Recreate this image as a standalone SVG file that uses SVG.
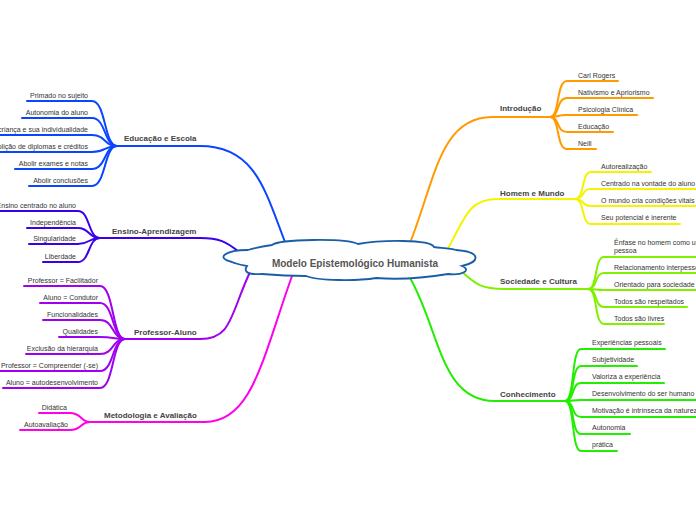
<svg xmlns="http://www.w3.org/2000/svg" width="696" height="520" viewBox="0 0 696 520">
<style>
.c{fill:none;stroke-width:2;stroke-linecap:round}
.t{font-family:"Liberation Sans",Arial,sans-serif;font-size:7px;fill:#333}
.m{font-family:"Liberation Sans",Arial,sans-serif;font-size:8px;font-weight:bold;fill:#444}
.e{text-anchor:end}
.or{stroke:#FF9A00}.ye{stroke:#F4F400}.li{stroke:#80F000}.gr{stroke:#22EE00}
.bl{stroke:#0A46FF}.in{stroke:#3A00EC}.pu{stroke:#A000F0}.mg{stroke:#FF00E8}
</style>
<rect width="696" height="520" fill="#fff"/>
<g id="connectors">
<!-- main branches -->
<path class="c or" d="M410,243 C435,180 440,117 492,117 H550"/>
<path class="c ye" d="M447,251 C466,214 470,199 498,199 H575"/>
<path class="c li" d="M460,270 C476,285 482,289 505,289 H588"/>
<path class="c gr" d="M410,278 C440,330 440,401 495,401 H565"/>
<path class="c bl" d="M285,242 C265,190 255,146 200,146 H117"/>
<path class="c in" d="M238,251 C226,242 220,238 200,238 H100"/>
<path class="c pu" d="M250,272 C230,315 232,339 200,339 H125"/>
<path class="c mg" d="M292,276 C262,360 252,422 205,422 H90"/>
<!-- Introdução children -->
<path class="c or" d="M550,117 C560,117 556,81 567,81 H618"/>
<path class="c or" d="M550,117 C560,117 556,98 567,98 H653"/>
<path class="c or" d="M550,117 C560,117 556,115 567,115 H637"/>
<path class="c or" d="M550,117 C560,117 556,132 567,132 H613"/>
<path class="c or" d="M550,117 C560,117 556,149 567,149 H596"/>
<!-- Homem e Mundo children -->
<path class="c ye" d="M575,199 C585,199 581,172 591,172 H651"/>
<path class="c ye" d="M575,199 C585,199 581,189 591,189 H697"/>
<path class="c ye" d="M575,199 C585,199 581,206 591,206 H697"/>
<path class="c ye" d="M575,199 C585,199 581,224 591,224 H680"/>
<!-- Sociedade e Cultura children -->
<path class="c li" d="M588,289 C598,289 594,257 604,257 H697"/>
<path class="c li" d="M588,289 C598,289 594,273 604,273 H697"/>
<path class="c li" d="M588,289 C598,289 594,290 604,290 H697"/>
<path class="c li" d="M588,289 C598,289 594,307 604,307 H687"/>
<path class="c li" d="M588,289 C598,289 594,324 604,324 H664"/>
<!-- Conhecimento children -->
<path class="c gr" d="M565,401 C575,401 571,349 581,349 H665"/>
<path class="c gr" d="M565,401 C575,401 571,366 581,366 H637"/>
<path class="c gr" d="M565,401 C575,401 571,383 581,383 H664"/>
<path class="c gr" d="M565,401 C575,401 571,400 581,400 H697"/>
<path class="c gr" d="M565,401 C575,401 571,417 581,417 H697"/>
<path class="c gr" d="M565,401 C575,401 571,434 581,434 H630"/>
<path class="c gr" d="M565,401 C575,401 571,451 581,451 H617"/>
<!-- Educação e Escola children -->
<path class="c bl" d="M117,146 C104,146 106,101 92,101 H27"/>
<path class="c bl" d="M117,146 C104,146 106,118 92,118 H22"/>
<path class="c bl" d="M117,146 C104,146 106,135 92,135 H-1"/>
<path class="c bl" d="M117,146 C104,146 106,152 92,152 H-1"/>
<path class="c bl" d="M117,146 C104,146 106,169 92,169 H15"/>
<path class="c bl" d="M117,146 C104,146 106,186 92,186 H29"/>
<!-- Ensino-Aprendizagem children -->
<path class="c in" d="M100,238 C88,238 90,211 78,211 H-1"/>
<path class="c in" d="M100,238 C88,238 90,228 78,228 H27"/>
<path class="c in" d="M100,238 C88,238 90,244 78,244 H29"/>
<path class="c in" d="M100,238 C88,238 90,262 78,262 H43"/>
<!-- Professor-Aluno children -->
<path class="c pu" d="M125,339 C112,339 114,286 100,286 H24"/>
<path class="c pu" d="M125,339 C112,339 114,303 100,303 H40"/>
<path class="c pu" d="M125,339 C112,339 114,320 100,320 H43"/>
<path class="c pu" d="M125,339 C112,339 114,337 100,337 H59"/>
<path class="c pu" d="M125,339 C112,339 114,354 100,354 H26"/>
<path class="c pu" d="M125,339 C112,339 114,371 100,371 H-1"/>
<path class="c pu" d="M125,339 C112,339 114,388 100,388 H3"/>
<!-- Metodologia children -->
<path class="c mg" d="M90,422 C80,422 82,413 70,413 H39"/>
<path class="c mg" d="M90,422 C80,422 82,430 70,430 H20"/>
</g>
<g id="center">
<path d="M248,250 C225,250 215,258 232,262 C236,264 242,265 247,266 C243,272 248,275 262,274 C285,276 300,276 306,276 C318,281 358,281 376,278 C400,280 430,277 448,274 C462,276 472,270 462,266 C480,262 482,252 456,250 C450,248 440,248 434,247 C430,239 380,240 358,244 C345,238 280,239 272,245 C265,246 255,248 248,250 Z" fill="#fff" stroke="#1A5EA8" stroke-width="1.8"/>
<text x="355" y="266.5" text-anchor="middle" font-family="Liberation Sans, Arial, sans-serif" font-size="10" font-weight="bold" fill="#555">Modelo Epistemológico Humanista</text>
</g>
<g id="introducao">
<text class="m" x="500" y="111">Introdução</text>
<text class="t" x="578" y="77.5">Carl Rogers</text>
<text class="t" x="578" y="94.5">Nativismo e Apriorismo</text>
<text class="t" x="578" y="111.5">Psicologia Clínica</text>
<text class="t" x="578" y="128.5">Educação</text>
<text class="t" x="578" y="145.5">Neill</text>
</g>
<g id="homem-mundo">
<text class="m" x="500" y="195.5">Homem e Mundo</text>
<text class="t" x="601" y="168.5">Autorealização</text>
<text class="t" x="601" y="185.5">Centrado na vontade do aluno</text>
<text class="t" x="601" y="202.5">O mundo cria condições vitais</text>
<text class="t" x="601" y="220">Seu potencial é inerente</text>
</g>
<g id="sociedade-cultura">
<text class="m" x="500" y="284">Sociedade e Cultura</text>
<text class="t" x="614" y="245">Ênfase no homem como uma</text>
<text class="t" x="614" y="253">pessoa</text>
<text class="t" x="614" y="269.5">Relacionamento interpessoal</text>
<text class="t" x="614" y="286.5">Orientado para sociedade</text>
<text class="t" x="614" y="303.5">Todos são respeitados</text>
<text class="t" x="614" y="320.5">Todos são livres</text>
</g>
<g id="conhecimento">
<text class="m" x="500" y="396.5">Conhecimento</text>
<text class="t" x="592" y="345">Experiências pessoais</text>
<text class="t" x="592" y="362">Subjetividade</text>
<text class="t" x="592" y="379">Valoriza a experiência</text>
<text class="t" x="592" y="396">Desenvolvimento do ser humano</text>
<text class="t" x="592" y="413">Motivação é intrínseca da natureza</text>
<text class="t" x="592" y="430">Autonomia</text>
<text class="t" x="592" y="447">prática</text>
</g>
<g id="educacao-escola">
<text class="m" x="124" y="141">Educação e Escola</text>
<text class="t e" x="88" y="97.5">Primado no sujeito</text>
<text class="t e" x="88" y="114.5">Autonomia do aluno</text>
<text class="t e" x="88" y="131.5">A criança e sua individualidade</text>
<text class="t e" x="88" y="148.5">Abolição de diplomas e créditos</text>
<text class="t e" x="88" y="165.5">Abolir exames e notas</text>
<text class="t e" x="88" y="182.5">Abolir conclusões</text>
</g>
<g id="ensino-aprendizagem">
<text class="m" x="112" y="234">Ensino-Aprendizagem</text>
<text class="t e" x="76" y="207.5">Ensino centrado no aluno</text>
<text class="t e" x="76" y="224.5">Independência</text>
<text class="t e" x="76" y="241">Singularidade</text>
<text class="t e" x="76" y="258.5">Liberdade</text>
</g>
<g id="professor-aluno">
<text class="m" x="134" y="335">Professor-Aluno</text>
<text class="t e" x="98" y="283">Professor = Facilitador</text>
<text class="t e" x="98" y="300">Aluno = Condutor</text>
<text class="t e" x="98" y="317">Funcionalidades</text>
<text class="t e" x="98" y="334">Qualidades</text>
<text class="t e" x="98" y="351">Exclusão da hierarquia</text>
<text class="t e" x="98" y="368">Professor = Compreender (-se)</text>
<text class="t e" x="98" y="385">Aluno = autodesenvolvimento</text>
</g>
<g id="metodologia-avaliacao">
<text class="m" x="104" y="418">Metodologia e Avaliação</text>
<text class="t e" x="67" y="409.5">Didática</text>
<text class="t e" x="68" y="426.5">Autoavaliação</text>
</g>
</svg>
